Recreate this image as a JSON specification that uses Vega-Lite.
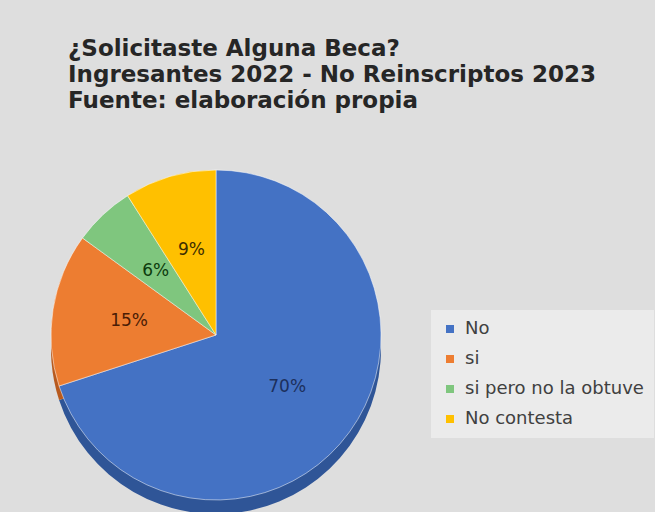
{
  "$schema": "https://vega.github.io/schema/vega-lite/v6.json",
  "autosize": {"type": "none"},
  "width": 352,
  "height": 340,
  "padding": {"left": 40, "top": 165, "right": 263, "bottom": 7},
  "background": "#dedede",
  "config": {"view": {"stroke": null}},
  "title": {
    "text": ["¿Solicitaste Alguna Beca?", "Ingresantes 2022 - No Reinscriptos 2023", "Fuente: elaboración propia"],
    "anchor": "start",
    "frame": "group",
    "dx": 28,
    "offset": 52,
    "font": "DejaVu Sans",
    "fontWeight": "bold",
    "fontSize": 23,
    "lineHeight": 26,
    "color": "#262626"
  },
  "data": {
    "values": [
      {"categoria": "No", "valor": 70, "etiqueta": "70%", "orden": 1},
      {"categoria": "si", "valor": 15, "etiqueta": "15%", "orden": 2},
      {"categoria": "si pero no la obtuve", "valor": 6, "etiqueta": "6%", "orden": 3},
      {"categoria": "No contesta", "valor": 9, "etiqueta": "9%", "orden": 4}
    ]
  },
  "encoding": {
    "theta": {"field": "valor", "type": "quantitative", "stack": true},
    "order": {"field": "orden", "type": "quantitative"}
  },
  "layer": [
    {
      "mark": {"type": "arc", "outerRadius": 165, "yOffset": 14},
      "encoding": {
        "color": {
          "field": "categoria", "type": "nominal",
          "scale": {"domain": ["No", "si", "si pero no la obtuve", "No contesta"], "range": ["#2f5597", "#b85a1e", "#5a9a59", "#c79600"]},
          "legend": null
        }
      }
    },
    {
      "mark": {"type": "arc", "outerRadius": 165, "stroke": "#ffffff", "strokeWidth": 0.5},
      "encoding": {
        "color": {
          "field": "categoria", "type": "nominal",
          "scale": {"domain": ["No", "si", "si pero no la obtuve", "No contesta"], "range": ["#4472c4", "#ed7d31", "#7fc67e", "#ffc000"]},
          "legend": {
            "title": null,
            "orient": "none",
            "legendX": 391,
            "legendY": 145,
            "padding": 10,
            "fillColor": "#ebebeb",
            "symbolType": "square",
            "symbolSize": 64,
            "symbolStrokeWidth": 0,
            "labelFont": "DejaVu Sans",
            "labelFontSize": 18,
            "labelColor": "#404040",
            "labelOffset": 6,
            "rowPadding": 12,
            "labelLimit": 250
          }
        }
      }
    },
    {
      "mark": {"type": "text", "radius": 88, "font": "DejaVu Sans", "fontSize": 17},
      "encoding": {
        "text": {"field": "etiqueta"},
        "color": {
          "field": "categoria", "type": "nominal",
          "scale": {"domain": ["No", "si", "si pero no la obtuve", "No contesta"], "range": ["#1c2f5c", "#4a1c05", "#0d3b0d", "#3d2e00"]},
          "legend": null
        }
      }
    }
  ],
  "resolve": {"scale": {"color": "independent"}}
}
